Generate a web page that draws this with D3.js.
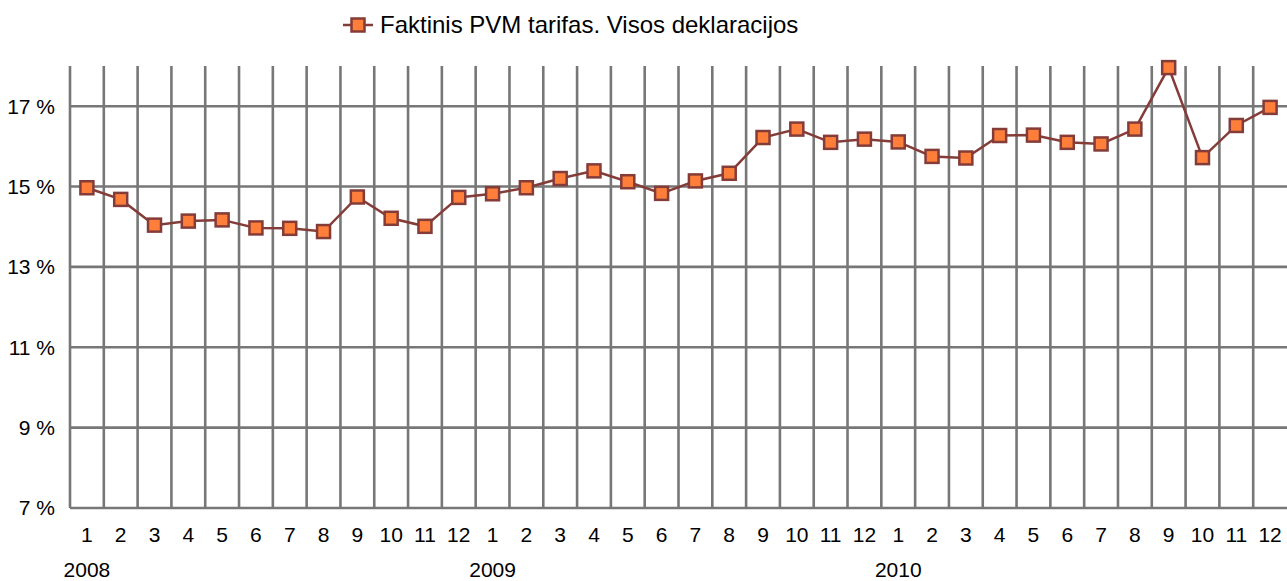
<!DOCTYPE html>
<html>
<head>
<meta charset="utf-8">
<script src="https://cdn.jsdelivr.net/npm/d3@7"></script>
<style>
    body { margin: 0; background: #fff; }
    text { font-family: "Liberation Sans", Arial, sans-serif; fill: #000; }
</style>
</head>
<body>
<div id="chart"></div>
<script>
// Data
const months = [1,2,3,4,5,6,7,8,9,10,11,12, 1,2,3,4,5,6,7,8,9,10,11,12, 1,2,3,4,5,6,7,8,9,10,11,12];
const years = ["2008", "2009", "2010"];
const seriesName = "Faktinis PVM tarifas. Visos deklaracijos";
const rates = [
    14.97, 14.68, 14.04, 14.14, 14.17, 13.97, 13.96, 13.88, 14.74, 14.21, 14.01, 14.73,
    14.82, 14.97, 15.20, 15.39, 15.12, 14.83, 15.14, 15.33, 16.22, 16.43, 16.10, 16.18,
    16.11, 15.75, 15.71, 16.27, 16.28, 16.10, 16.06, 16.43, 17.96, 15.72, 16.52, 16.97
];
const yTicks = [7, 9, 11, 13, 15, 17];

const width = 1287, height = 581;
const margin = { top: 66, right: 0, bottom: 73, left: 70 };
const innerW = width - margin.left - margin.right;
const innerH = height - margin.top - margin.bottom;

const data = rates.map((v, i) => ({ key: i, month: months[i], value: v }));

const svg = d3.select("#chart")
    .append("svg")
    .attr("width", width)
    .attr("height", height);

const g = svg.append("g")
    .attr("transform", `translate(${margin.left}, ${margin.top})`);

const x = d3.scaleBand()
    .domain(data.map(d => d.key))
    .range([0, innerW])
    .padding(0);

const y = d3.scaleLinear()
    .domain([7, 18])
    .range([innerH, 0]);

const gridColor = "#777777";

// vertical gridlines at category boundaries
g.selectAll(".vgrid")
    .data(data)
    .join("line")
    .attr("class", "vgrid")
    .attr("x1", d => x(d.key))
    .attr("x2", d => x(d.key))
    .attr("y1", 0)
    .attr("y2", innerH)
    .attr("stroke", gridColor)
    .attr("stroke-width", 2.6);

// horizontal gridlines
g.selectAll(".hgrid")
    .data(yTicks)
    .join("line")
    .attr("class", "hgrid")
    .attr("x1", 0)
    .attr("x2", innerW)
    .attr("y1", d => y(d))
    .attr("y2", d => y(d))
    .attr("stroke", gridColor)
    .attr("stroke-width", 2.6);

// y labels
g.selectAll(".ylabel")
    .data(yTicks)
    .join("text")
    .attr("class", "ylabel")
    .attr("x", -15)
    .attr("y", d => y(d))
    .attr("dy", "0.35em")
    .attr("text-anchor", "end")
    .style("font-size", "21px")
    .text(d => `${d} %`);

// month labels
g.selectAll(".xlabel")
    .data(data)
    .join("text")
    .attr("class", "xlabel")
    .attr("x", d => x(d.key) + x.bandwidth() / 2)
    .attr("y", innerH + 27)
    .attr("dy", "0.35em")
    .attr("text-anchor", "middle")
    .style("font-size", "21px")
    .text(d => d.month);

// year labels centred on January
g.selectAll(".year")
    .data(years)
    .join("text")
    .attr("class", "year")
    .attr("x", (d, i) => x(i * 12) + x.bandwidth() / 2)
    .attr("y", innerH + 62)
    .attr("dy", "0.35em")
    .attr("text-anchor", "middle")
    .style("font-size", "21px")
    .text(d => d);

const lineColor = "#843c39";
const markerFill = "#ff7f3a";

const line = d3.line()
    .x(d => x(d.key) + x.bandwidth() / 2)
    .y(d => y(d.value));

g.append("path")
    .datum(data)
    .attr("fill", "none")
    .attr("stroke", lineColor)
    .attr("stroke-width", 2.5)
    .attr("d", line);

const ms = 13;
g.selectAll(".marker")
    .data(data)
    .join("rect")
    .attr("class", "marker")
    .attr("x", d => x(d.key) + x.bandwidth() / 2 - ms / 2)
    .attr("y", d => y(d.value) - ms / 2)
    .attr("width", ms)
    .attr("height", ms)
    .attr("fill", markerFill)
    .attr("stroke", lineColor)
    .attr("stroke-width", 2.5);

// legend
const legend = svg.append("g")
    .attr("transform", "translate(343, 25)");

legend.append("line")
    .attr("x1", 0)
    .attr("x2", 30)
    .attr("stroke", lineColor)
    .attr("stroke-width", 2.5);

legend.append("rect")
    .attr("x", 15 - ms / 2)
    .attr("y", -ms / 2)
    .attr("width", ms)
    .attr("height", ms)
    .attr("fill", markerFill)
    .attr("stroke", lineColor)
    .attr("stroke-width", 2.5);

legend.append("text")
    .attr("x", 37)
    .attr("y", 0)
    .attr("dy", "0.35em")
    .style("font-size", "24px")
    .text(seriesName);
</script>
</body>
</html>
